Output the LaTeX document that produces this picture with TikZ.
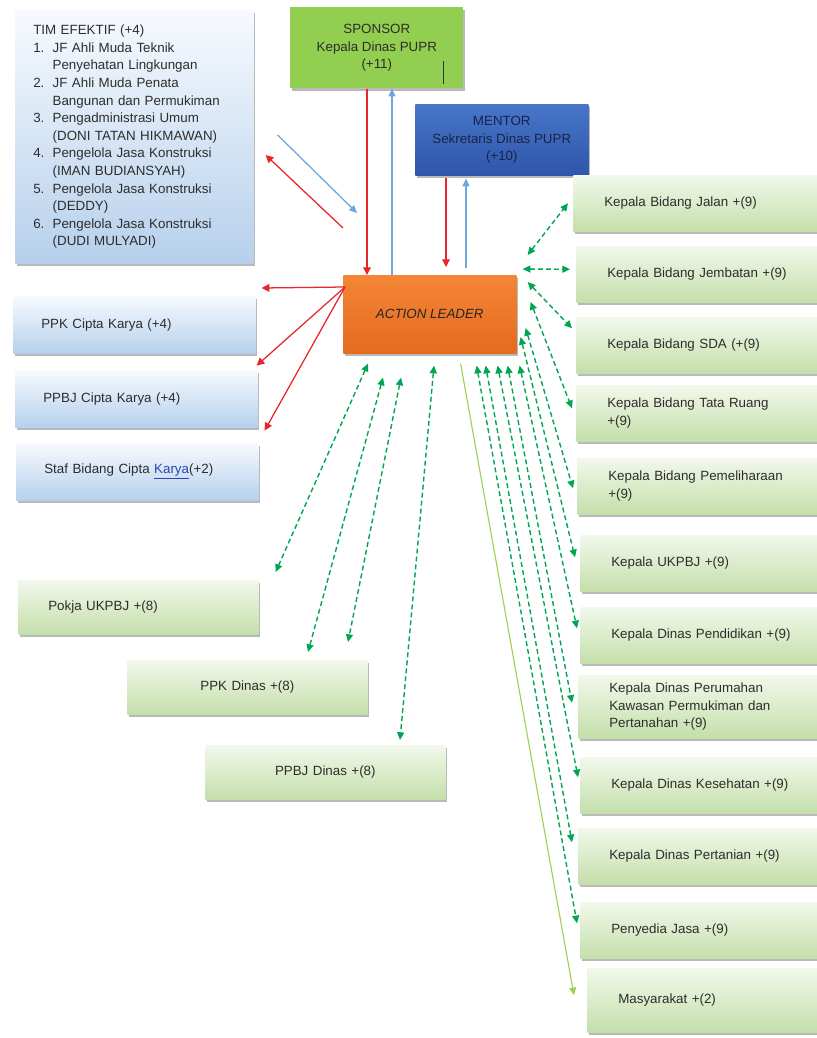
\documentclass[tikz,border=0pt]{standalone}
\usepackage{fontspec}
\setmainfont{Liberation Sans}
\usetikzlibrary{positioning,calc,arrows.meta,shadows}
\definecolor{sponsorgreen}{RGB}{146,206,80}
\definecolor{mentorblue}{RGB}{72,118,200}
\definecolor{mentorbluedk}{RGB}{46,86,170}
\definecolor{leadorange}{RGB}{244,134,54}
\definecolor{leadorangedk}{RGB}{228,106,32}
\definecolor{paleblue}{RGB}{247,250,254}
\definecolor{softblue}{RGB}{182,208,236}
\definecolor{palegreen}{RGB}{242,248,235}
\definecolor{softgreen}{RGB}{196,223,170}
\definecolor{arrred}{RGB}{232,38,42}
\definecolor{arrblue}{RGB}{110,166,222}
\definecolor{arrgreen}{RGB}{0,166,82}
\definecolor{arrlime}{RGB}{160,208,84}
\definecolor{linkblue}{RGB}{40,70,180}
\definecolor{txtgray}{RGB}{45,45,45}
\definecolor{navytxt}{RGB}{25,35,70}

\newcommand{\tnum}[1]{\makebox[1.45em][l]{#1}}
\newcommand{\tind}{\hspace*{1.45em}}

\begin{document}
\begin{tikzpicture}[
    x=0.025cm, y=-0.025cm,
    font=\fontsize{9.5}{12.5}\selectfont, text=txtgray,
    shd/.style={drop shadow={shadow xshift=1.3pt, shadow yshift=-1.6pt, fill=black!50, opacity=0.55}},
    box/.style={shd, anchor=north west, inner ysep=0pt, align=left},
    bbox/.style={box, top color=paleblue, bottom color=softblue},
    gbox/.style={box, top color=palegreen, bottom color=softgreen},
    lbbox/.style={bbox, text width=4.65cm, inner xsep=0.7cm, minimum height=1.425cm},
    lgbox/.style={gbox, text width=4.5cm, inner xsep=0.75cm, minimum height=1.35cm},
    rbox/.style={gbox, text width=5cm, inner xsep=0.775cm, minimum height=1.4cm},
    headbox/.style={shd, anchor=north west, inner sep=0pt, minimum width=4.325cm, align=center},
    redarr/.style={draw=arrred, line width=0.9pt, -{Triangle[length=5.5pt,width=5.5pt]}},
    bluearr/.style={draw=arrblue, line width=0.9pt, -{Triangle[length=5.5pt,width=5pt]}},
    dasharr/.style={draw=arrgreen, line width=1pt, dash pattern=on 3.5pt off 2.2pt,
      {Triangle[length=5.5pt,width=5pt]}-{Triangle[length=5.5pt,width=5pt]}},
    limearr/.style={draw=arrlime, line width=0.8pt, -{Triangle[length=5.5pt,width=5pt]}}
  ]
    \useasboundingbox (0,0) rectangle (816,1038);

    % --- top: team, sponsor, mentor, action leader ---
    \node[bbox, text width=5.05cm, inner xsep=0.45cm, minimum height=6.325cm] (tim) at (15,10) {TIM EFEKTIF (+4)\\
      \tnum{1.}JF Ahli Muda Teknik\\
      \tind Penyehatan Lingkungan\\
      \tnum{2.}JF Ahli Muda Penata\\
      \tind Bangunan dan Permukiman\\
      \tnum{3.}Pengadministrasi Umum\\
      \tind (DONI TATAN HIKMAWAN)\\
      \tnum{4.}Pengelola Jasa Konstruksi\\
      \tind (IMAN BUDIANSYAH)\\
      \tnum{5.}Pengelola Jasa Konstruksi\\
      \tind (DEDDY)\\
      \tnum{6.}Pengelola Jasa Konstruksi\\
      \tind (DUDI MULYADI)};
    \node[headbox, fill=sponsorgreen, minimum height=2.025cm] (spon) at (290,7) {SPONSOR\\Kepala Dinas PUPR\\(+11)};
    \node[headbox, top color=mentorblue, bottom color=mentorbluedk, minimum height=1.775cm, text=navytxt] (ment) at (415,104) {MENTOR\\Sekretaris Dinas PUPR\\(+10)};
    \node[headbox, top color=leadorange, bottom color=leadorangedk, minimum height=1.95cm, text=black!85, font=\fontsize{9.5}{12.5}\selectfont\itshape] (al) at (343,275) {ACTION LEADER};
    \draw[black!80, line width=0.6pt] ($(spon.south west)+(153,-5)$) -- ($(spon.south west)+(153,-28)$);

    % --- left column ---
    \node[lbbox] (ppkck)  at (13,296) {PPK Cipta Karya (+4)};
    \node[lbbox] (ppbjck) at (15,370) {PPBJ Cipta Karya (+4)};
    \node[lbbox] (staf)   at (16,443) {Staf Bidang Cipta {\color{linkblue}\underline{Karya}}(+2)};

    \node[lgbox] (pokja) at (18,580) {Pokja UKPBJ +(8)};
    \node[lgbox, align=center] (ppkd)  at (127,660) {PPK Dinas +(8)};
    \node[lgbox, align=center] (ppbjd) at (205,745) {PPBJ Dinas +(8)};

    % --- right column ---
    \node[rbox] (jalan) at (573,175) {Kepala Bidang Jalan +(9)};
    \node[rbox] (jemb)  at (576,246) {Kepala Bidang Jembatan +(9)};
    \node[rbox] (sda)   at (576,317) {Kepala Bidang SDA (+(9)};
    \node[rbox] (tata)  at (576,385) {Kepala Bidang Tata Ruang\\+(9)};
    \node[rbox] (pemel) at (577,458) {Kepala Bidang Pemeliharaan\\+(9)};
    \node[rbox] (ukpbj) at (580,535) {Kepala UKPBJ +(9)};
    \node[rbox] (pend)  at (580,607) {Kepala Dinas Pendidikan +(9)};
    \node[rbox, minimum height=1.575cm] (perum) at (578,675) {Kepala Dinas Perumahan\\Kawasan Permukiman dan\\Pertanahan +(9)};
    \node[rbox] (kes)   at (580,757) {Kepala Dinas Kesehatan +(9)};
    \node[rbox] (pert)  at (578,828) {Kepala Dinas Pertanian +(9)};
    \node[rbox] (peny)  at (580,902) {Penyedia Jasa +(9)};
    \node[rbox, minimum height=1.6cm] (masy) at (587,968) {Masyarakat +(2)};

    % Sponsor / Mentor <-> Action leader
    \draw[redarr]  ($(spon.south west)+(77,0)$) -- ($(al.north west)+(24,0)$);
    \draw[bluearr] ($(al.north west)+(49,0)$) -- ($(spon.south west)+(102,0)$);
    \draw[redarr]  ($(ment.south west)+(31,2)$) -- ($(al.north west)+(103,-8)$);
    \draw[bluearr] ($(al.north west)+(123,-7)$) -- ($(ment.south west)+(51,3)$);
    % Tim efektif <-> Action leader
    \draw[redarr]  ($(al.north west)+(0,-47)$) -- ($(tim.north east)+(12,145)$);
    \draw[bluearr] ($(tim.north east)+(24,125)$) -- ($(al.north west)+(14,-62)$);
    % Action leader -> Cipta Karya
    \draw[redarr] ($(al.north west)+(2,12)$) -- ($(ppkck.north east)+(6,-8)$);
    \draw[redarr] ($(al.north west)+(2,12)$) -- ($(ppkck.south east)+(1,12)$);
    \draw[redarr] ($(al.north west)+(2,12)$) -- ($(ppbjck.south east)+(7,3)$);

    % Action leader <-> kepala bidang / dinas
    \draw[dasharr] ($(al.north east)+(11,-20)$) -- ($(jalan.west)+(-5,0)$);
    \draw[dasharr] ($(al.north east)+(6,-6)$)   -- ($(jemb.west)+(-6,-5)$);
    \draw[dasharr] ($(al.north east)+(11,7)$)   -- ($(sda.west)+(-4,-17)$);
    \draw[dasharr] ($(al.north east)+(14,27)$)  -- ($(tata.west)+(-4,-5)$);
    \draw[dasharr] ($(al.north east)+(9,53)$)   -- ($(pemel.west)+(-4,2)$);
    \draw[dasharr] ($(al.north east)+(4,62)$)   -- ($(ukpbj.west)+(-5,-6)$);
    \draw[dasharr] ($(al.south east)+(3,12)$)   -- ($(pend.west)+(-3,-7)$);
    \draw[dasharr] ($(al.south east)+(-9,12)$)  -- ($(perum.west)+(-6,-4)$);
    \draw[dasharr] ($(al.south east)+(-19,12)$) -- ($(kes.west)+(-2,-8)$);
    \draw[dasharr] ($(al.south east)+(-31,12)$) -- ($(pert.west)+(-6,-14)$);
    \draw[dasharr] ($(al.south east)+(-40,12)$) -- ($(peny.west)+(-3,-7)$);
    \draw[limearr] ($(al.south east)+(-56,10)$) -- ($(masy.west)+(-13,-5)$);

    % Action leader <-> Pokja / PPK / PPBJ dinas
    \draw[dasharr] ($(al.south west)+(25,10)$) -- ($(pokja.north east)+(17,-8)$);
    \draw[dasharr] ($(al.south west)+(40,24)$) -- ($(ppkd.north west)+(181,-8)$);
    \draw[dasharr] ($(al.south west)+(58,24)$) -- ($(ppkd.north west)+(221,-18)$);
    \draw[dasharr] ($(al.south west)+(91,12)$) -- ($(ppbjd.north west)+(195,-5)$);
  \end{tikzpicture}
\end{document}
